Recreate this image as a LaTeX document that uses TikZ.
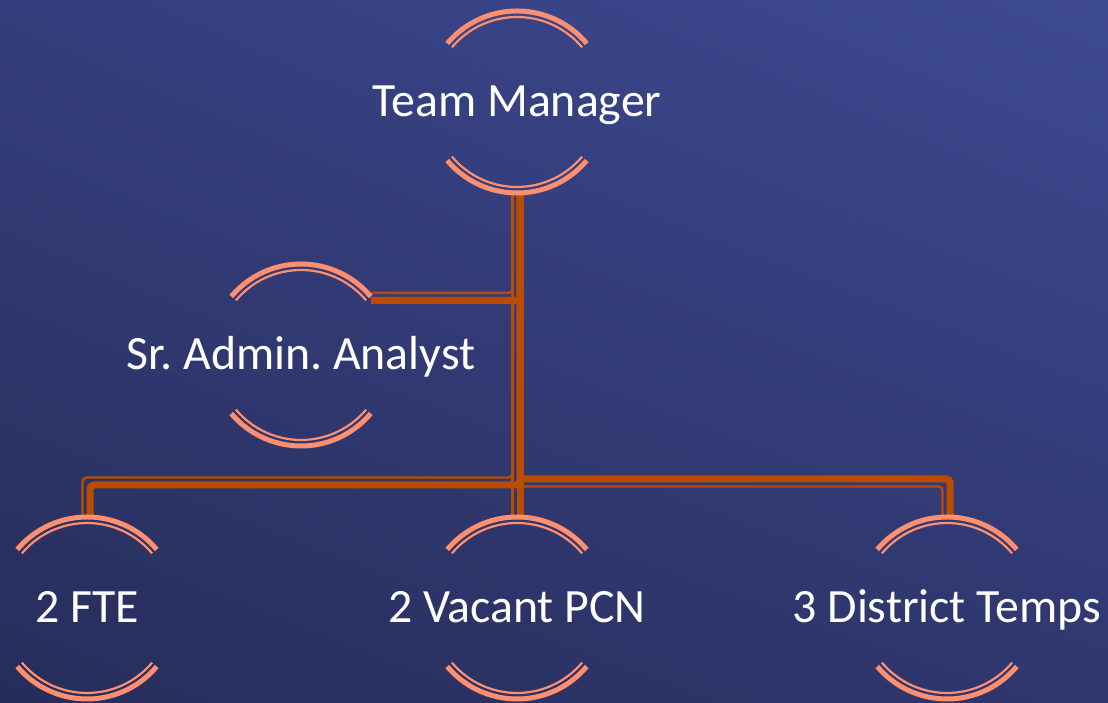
\documentclass[tikz,border=0pt]{standalone}
\usepackage{fontspec}
\setmainfont{Carlito}
\frenchspacing
\usetikzlibrary{calc,shadings}
\definecolor{bgUL}{RGB}{52,62,124}
\definecolor{bgUR}{RGB}{62,74,146}
\definecolor{bgLL}{RGB}{39,45,90}
\definecolor{bgLR}{RGB}{47,55,111}
\definecolor{arcc}{RGB}{255,143,110}
\definecolor{conn}{RGB}{186,76,0}
\tikzset{
  unit/.style={circle,minimum size=182pt,inner sep=0pt,draw=none},
  lbl/.style={text=white,font=\fontsize{47.8}{56}\selectfont,inner sep=0pt,anchor=base},
  arcthick/.style={draw=arcc,line width=5pt},
  arcthin/.style={draw=arcc,line width=2.2pt},
  connthick/.style={draw=conn,line width=7pt,rounded corners=4pt},
  connthin/.style={draw=conn,line width=2.4pt,rounded corners=4pt},
}
\begin{document}
\begin{tikzpicture}[x=1pt,y=1pt]
\useasboundingbox (0,0) rectangle (1108,703);
\shade[upper left=bgUL,upper right=bgUR,lower left=bgLL,lower right=bgLR] (0,0) rectangle (1108,703);

\node[unit] (tm) at (517,601) {};
\node[unit] (sa) at (301,348) {};
\node[unit] (fte) at (87,95) {};
\node[unit] (pcn) at (517,95) {};
\node[unit] (dt) at (947,95) {};
\coordinate (bus) at (517,221);

% connectors
\draw[connthick] ([xshift=3pt]tm.south) |- ($(sa.40)+(0,-4)$);
\draw[connthin] ([xshift=-4.5pt]tm.south) |- ($(sa.40)+(0,3.5)$);
\draw[connthick] ([xshift=3pt]tm.south) |- ($(fte.north |- bus)+(3,-3)$) -- ($(fte.north)+(3,0)$);
\draw[connthin] ([xshift=-4.5pt]tm.south) |- ($(fte.north |- bus)+(-4.5,4.5)$) -- ($(fte.north)+(-4.5,0)$);
\draw[connthick] ([xshift=3pt]tm.south) |- ($(dt.north |- bus)+(3,3)$) -- ($(dt.north)+(3,0)$);
\draw[connthin] ([xshift=-4.5pt]tm.south) |- ($(dt.north |- bus)+(-4.5,-4.5)$) -- ($(dt.north)+(-4.5,0)$);
\draw[connthick] ([xshift=3pt]tm.south) -- ([xshift=3pt]pcn.north);
\draw[connthin] ([xshift=-4.5pt]tm.south) -- ([xshift=-4.5pt]pcn.north);

% arcs
\foreach \u in {tm,sa,fte,pcn,dt}{
  \draw[arcthick] ($(\u.center)+(140:91)$) arc[start angle=140,end angle=40,radius=91];
  \draw[arcthin] ($(\u.center)+(140:85)$) arc[start angle=140,end angle=40,radius=85];
  \draw[arcthick] ($(\u.center)+(220:91)$) arc[start angle=220,end angle=320,radius=91];
  \draw[arcthin] ($(\u.center)+(220:85)$) arc[start angle=220,end angle=320,radius=85];
}

% labels
\node[lbl] (tmt) at ($(tm.center)+(0,-15)$) {Team Manager};
\node[lbl] (sat) at ($(sa.center)+(0,-15)$) {Sr. Admin. Analyst};
\node[lbl] (ftet) at ($(fte.center)+(0,-15)$) {2 FTE};
\node[lbl] (pcnt) at ($(pcn.center)+(0,-15)$) {2 Vacant PCN};
\node[lbl] (dtt) at ($(dt.center)+(0,-15)$) {3 District Temps};
\end{tikzpicture}
\end{document}
